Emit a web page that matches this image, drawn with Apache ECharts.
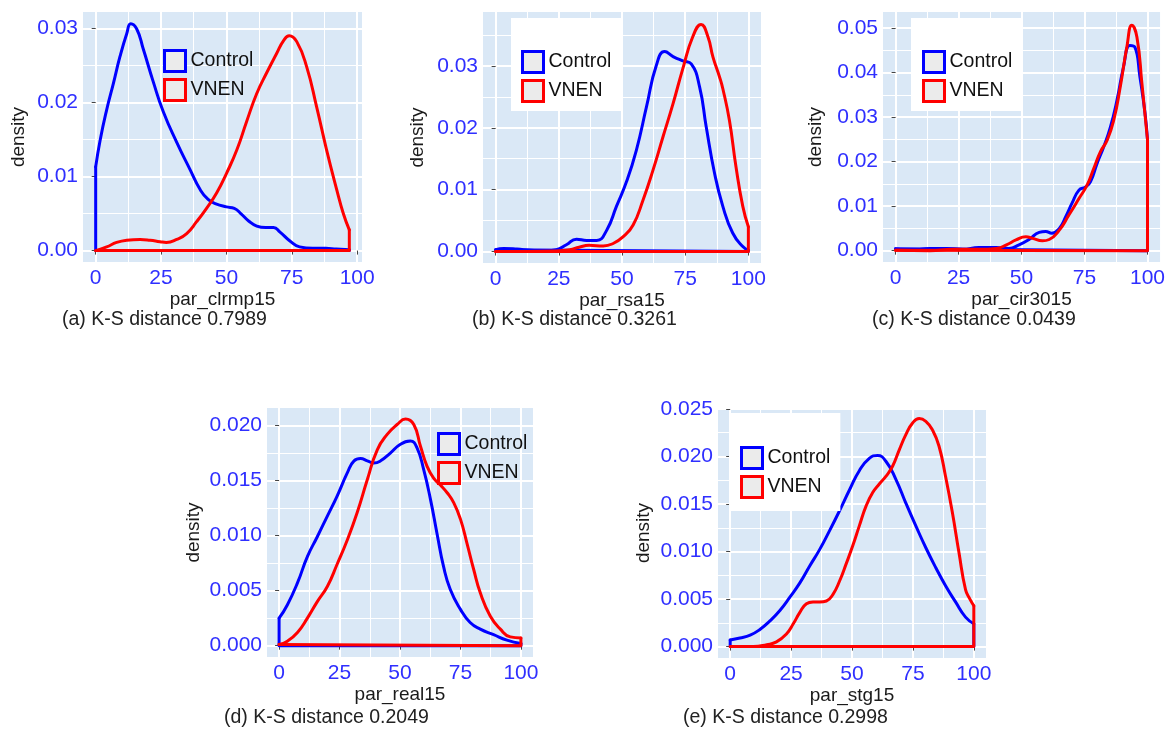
<!DOCTYPE html>
<html><head><meta charset="utf-8">
<script src="https://cdn.jsdelivr.net/npm/echarts@6/dist/echarts.min.js"></script>
<style>html,body{margin:0;padding:0;background:#fff}#c{width:1168px;height:752px}</style>
</head><body><div id="c"></div><script>
// ---- data (x, density) ----
const a_control = [[0,0.0113],[1.7,0.0149],[4.2,0.0190],[6.8,0.0226],[9.3,0.0262],[11.9,0.0293],[13.4,0.0306],[15.7,0.0299],[18.2,0.0272],[22,0.0228],[25.9,0.0187],[31,0.0146],[36,0.0110],[40,0.0082],[43,0.0069],[46,0.0063],[50,0.0059],[53,0.0057],[55.5,0.0050],[58.5,0.0040],[61.6,0.0033],[65,0.0031],[68,0.0031],[70.5,0.0025],[74.3,0.0013],[78,0.0005],[83,0.0003],[88,0.0003],[92,0.0002],[97,0.0001]];
const a_vnen = [[0,0],[4.2,0.0005],[8,0.0011],[11.9,0.0014],[17,0.0015],[20.8,0.0014],[24.6,0.0012],[27,0.0011],[31,0.0015],[34.8,0.0023],[38.6,0.0039],[42.4,0.0057],[46.3,0.0078],[50,0.0104],[54,0.0136],[57.7,0.0174],[61.6,0.0212],[65.4,0.0240],[69.2,0.0266],[71.8,0.0283],[74,0.0290],[76.9,0.0282],[80.7,0.0248],[84.5,0.0194],[88.3,0.0136],[92.2,0.0082],[94.7,0.0050],[97,0.0028]];
const b_control = [[0,0.0003],[3.2,0.0005],[8.4,0.0004],[13.7,0.0002],[19,0.0001],[24,0.0003],[28,0.0011],[32,0.0020],[36,0.0018],[40,0.0018],[44,0.0035],[47.8,0.0073],[51.8,0.0113],[55.7,0.0164],[59.7,0.0234],[63.6,0.0301],[66.9,0.0323],[70.2,0.0315],[74.1,0.0308],[77.4,0.0303],[80.7,0.0266],[83.3,0.0202],[86.6,0.0127],[89.9,0.0073],[93.8,0.0030],[97.8,0.0008],[100,0.0002]];
const b_vnen = [[0,0],[24,0.0001],[29.4,0.0003],[33,0.0007],[37,0.0010],[42.6,0.0009],[46.5,0.0013],[50.5,0.0024],[54.4,0.0043],[58.3,0.0083],[62.3,0.0132],[66.2,0.0185],[70.2,0.0239],[74.1,0.0296],[78,0.0347],[81.3,0.0367],[84,0.0347],[86,0.0314],[88.6,0.0282],[89.9,0.0263],[92.5,0.0212],[95.1,0.0137],[97.8,0.0073],[100,0.0040]];
const c_control = [[0,0.0004],[7,0.0001],[13.6,0.0005],[20,0.0005],[26.7,0.0003],[33,0.0007],[40,0.0007],[45,0.0005],[49,0.0013],[53,0.0025],[57,0.0041],[59.6,0.0043],[62,0.0039],[65,0.0050],[67.5,0.0076],[70,0.0106],[72.8,0.0136],[75.4,0.0143],[77.4,0.0155],[80,0.0196],[82.6,0.0233],[85.3,0.0278],[87.9,0.0338],[90.5,0.0413],[93,0.0461],[95,0.0457],[97,0.0390],[99,0.0310],[100,0.0250]];
const c_vnen = [[0,0.0001],[13.6,0],[22.8,0.0003],[33,0.0003],[40,0.0005],[44,0.0013],[47.8,0.0024],[51.7,0.0031],[54.3,0.0028],[58.3,0.0022],[61,0.0025],[65,0.0046],[68.8,0.0080],[72.8,0.0117],[76,0.0147],[78.7,0.0185],[81.3,0.0222],[84,0.0248],[86.6,0.0293],[89.2,0.0368],[91.8,0.0457],[93.8,0.0506],[95.8,0.0480],[97.8,0.0375],[100,0.0250]];
const d_control = [[0,0.0025],[3.4,0.0037],[7.6,0.0057],[11.7,0.0081],[15.8,0.0099],[20,0.0118],[24,0.0136],[28.2,0.0157],[31,0.0168],[33.7,0.0170],[36.5,0.0168],[39.2,0.0166],[42,0.0168],[46,0.0175],[50.2,0.0183],[54.3,0.0186],[57,0.0180],[59.8,0.0160],[62.6,0.0133],[65.3,0.0102],[68,0.0072],[70.8,0.0051],[75,0.0033],[79,0.0021],[83.2,0.0015],[88.7,0.0010],[94.2,0.0005],[100,0.0002]];
const d_vnen = [[0,0.0001],[3.4,0.0004],[7.6,0.0012],[11.7,0.0025],[15.8,0.0040],[20,0.0054],[24,0.0074],[28.2,0.0096],[32.3,0.0121],[36.5,0.0151],[40.6,0.0178],[44.7,0.0192],[48.8,0.0201],[52.3,0.0206],[55.7,0.0201],[58.5,0.0181],[61.2,0.0163],[64,0.0152],[66.7,0.0146],[69.5,0.0139],[72.2,0.0130],[75,0.0115],[77.7,0.0093],[80.5,0.0069],[83.2,0.0048],[87.3,0.0027],[91.5,0.0015],[95.6,0.0008],[100,0.0007]];
const e_control = [[0,0.0007],[4,0.0009],[8.2,0.0012],[12.2,0.0018],[16.3,0.0027],[20.4,0.0038],[24.5,0.0052],[28.6,0.0067],[32.7,0.0085],[36.7,0.0102],[40.8,0.0122],[44.9,0.0143],[49,0.0165],[53,0.0185],[57.1,0.0198],[60.5,0.0201],[63.9,0.0195],[68,0.0176],[72.1,0.0151],[76.2,0.0127],[80.3,0.0104],[84.4,0.0083],[88.4,0.0064],[92.5,0.0047],[96.6,0.0031],[100,0.0024]];
const e_vnen = [[0,0],[9.5,0],[15,0.0002],[19,0.0005],[23,0.0013],[25.9,0.0024],[28.6,0.0036],[31.3,0.0045],[34,0.0047],[36.7,0.0047],[39.5,0.0048],[42.2,0.0055],[44.9,0.0069],[47.6,0.0087],[50.3,0.0106],[53,0.0127],[55.8,0.0148],[58.5,0.0162],[61.2,0.0171],[63.9,0.0179],[66.7,0.0190],[69.4,0.0207],[72.1,0.0223],[74.8,0.0235],[77.6,0.0240],[80.3,0.0237],[83,0.0228],[85.7,0.0211],[88.4,0.0179],[91.2,0.0141],[93.9,0.0099],[96.6,0.0060],[98.4,0.0050],[100,0.0043]];

const groups = ['Control', 'VNEN'];
const xTicks = [0, 25, 50, 75, 100];
const xMinor = [12.5, 37.5, 62.5, 87.5];
const a_yTicks = [0, 0.01, 0.02, 0.03];
const a_yMinor = [0.005, 0.015, 0.025];
const b_yTicks = [0, 0.01, 0.02, 0.03];
const b_yMinor = [0.005, 0.015, 0.025, 0.035];
const c_yTicks = [0, 0.01, 0.02, 0.03, 0.04, 0.05];
const c_yMinor = [0.005, 0.015, 0.025, 0.035, 0.045];
const d_yTicks = [0, 0.005, 0.01, 0.015, 0.02];
const d_yMinor = [0.0025, 0.0075, 0.0125, 0.0175];
const e_yTicks = [0, 0.005, 0.01, 0.015, 0.02, 0.025];
const e_yMinor = [0.0025, 0.0075, 0.0125, 0.0175, 0.0225];
const xNames = ['par_clrmp15', 'par_rsa15', 'par_cir3015', 'par_real15', 'par_stg15'];
const yName = 'density';
const captions = ['(a) K-S distance 0.7989', '(b) K-S distance 0.3261', '(c) K-S distance 0.0439', '(d) K-S distance 0.2049', '(e) K-S distance 0.2998'];

// ---- styling / layout ----
const FONT = '"Liberation Sans", Arial, sans-serif';
const BLUE = '#0000ff', RED = '#ff0000', BG = '#dae8f6', TICKC = '#2f2fff';
const panels = [
  {ctrl: a_control, vnen: a_vnen, yT: a_yTicks, yM: a_yMinor, dec: 2, grid: {left: 83, top: 12, width: 279, height: 250}, x: [-4.85, 101.85], y: [-0.00154, 0.0322], yGap: 55, leg: {left: 163, top: 49, padding: 0, bg: 'transparent'}, cap: [62, 310]},
  {ctrl: b_control, vnen: b_vnen, yT: b_yTicks, yM: b_yMinor, dec: 2, grid: {left: 483, top: 12, width: 278, height: 251}, x: [-5, 105], y: [-0.00185, 0.0387], yGap: 56, leg: {left: 511, top: 18, padding: [32, 10, 8, 10], bg: '#ffffff'}, cap: [472, 310]},
  {ctrl: c_control, vnen: c_vnen, yT: c_yTicks, yM: c_yMinor, dec: 2, grid: {left: 883, top: 12, width: 279, height: 250}, x: [-5, 105], y: [-0.00255, 0.0536], yGap: 58, leg: {left: 911, top: 18, padding: [32, 10, 8, 11], bg: '#ffffff'}, cap: [872, 310]},
  {ctrl: d_control, vnen: d_vnen, yT: d_yTicks, yM: d_yMinor, dec: 3, grid: {left: 267, top: 408, width: 266, height: 249}, x: [-5, 105], y: [-0.00103, 0.0216], yGap: 64, leg: {left: 437, top: 432, padding: 0, bg: 'transparent'}, cap: [224, 708]},
  {ctrl: e_control, vnen: e_vnen, yT: e_yTicks, yM: e_yMinor, dec: 3, grid: {left: 718, top: 408, width: 268, height: 250}, x: [-5, 105], y: [-0.0012, 0.0251], yGap: 65, leg: {left: 729, top: 413, padding: [33, 10, 12, 11], bg: '#ffffff'}, cap: [683, 708]}
];

const grid = [], xAxis = [], yAxis = [], series = [], legend = [], title = [];
panels.forEach((p, i) => {
  grid.push(Object.assign({show: true, backgroundColor: BG, borderWidth: 0, containLabel: false}, p.grid));
  const nameStyle = {fontSize: 19, color: '#1a1a1a', fontFamily: FONT};
  xAxis.push({
    gridIndex: i, type: 'value', min: p.x[0], max: p.x[1], position: 'bottom',
    axisLine: {show: false},
    axisTick: {show: true, length: 4, lineStyle: {color: '#444', width: 1}, customValues: xTicks},
    axisLabel: {customValues: xTicks, color: TICKC, fontSize: 21, fontFamily: FONT, margin: 6},
    splitLine: {show: true, lineStyle: {color: '#ffffff', width: 2}},
    name: xNames[i], nameLocation: 'middle', nameGap: 27, nameTextStyle: nameStyle
  });
  xAxis.push({
    gridIndex: i, type: 'value', min: p.x[0], max: p.x[1], position: 'top',
    axisLine: {show: false}, axisTick: {show: false, customValues: xMinor}, axisLabel: {show: false},
    splitLine: {show: true, lineStyle: {color: '#ffffff', width: 1}}
  });
  yAxis.push({
    gridIndex: i, type: 'value', min: p.y[0], max: p.y[1], position: 'left',
    axisLine: {show: false},
    axisTick: {show: true, length: 4, lineStyle: {color: '#444', width: 1}, customValues: p.yT},
    axisLabel: {customValues: p.yT, formatter: v => v.toFixed(p.dec), color: TICKC, fontSize: 21, fontFamily: FONT, margin: 5},
    splitLine: {show: true, lineStyle: {color: '#ffffff', width: 2}},
    name: yName, nameLocation: 'middle', nameGap: p.yGap, nameRotate: 90, nameTextStyle: nameStyle
  });
  yAxis.push({
    gridIndex: i, type: 'value', min: p.y[0], max: p.y[1], position: 'right',
    axisLine: {show: false}, axisTick: {show: false, customValues: p.yM}, axisLabel: {show: false},
    splitLine: {show: true, lineStyle: {color: '#ffffff', width: 1}}
  });
  [[groups[0], p.ctrl, BLUE], [groups[1], p.vnen, RED]].forEach(([nm, d, col]) => {
    const first = d[0], last = d[d.length - 1];
    series.push({
      type: 'line', name: nm, xAxisIndex: 2 * i, yAxisIndex: 2 * i, data: d,
      smooth: 0.5, symbol: 'none', silent: true,
      lineStyle: {color: col, width: 3, cap: 'round', join: 'round'}, itemStyle: {color: col}
    });
    series.push({
      type: 'line', name: nm, xAxisIndex: 2 * i, yAxisIndex: 2 * i,
      data: [[first[0], first[1]], [first[0], 0], [last[0], 0], [last[0], last[1]]],
      smooth: false, symbol: 'none', silent: true,
      lineStyle: {color: col, width: 3, cap: 'round', join: 'round'}, itemStyle: {color: col}
    });
  });
  legend.push({
    left: p.leg.left, top: p.leg.top, orient: 'vertical', padding: p.leg.padding,
    backgroundColor: p.leg.bg, itemWidth: 21, itemHeight: 21, itemGap: 5, icon: 'rect',
    selectedMode: false, textStyle: {fontSize: 19.5, color: '#111', fontFamily: FONT},
    data: [
      {name: groups[0], icon: 'rect', itemStyle: {color: '#ebebeb', borderColor: BLUE, borderWidth: 3}},
      {name: groups[1], icon: 'rect', itemStyle: {color: '#ebebeb', borderColor: RED, borderWidth: 3}}
    ]
  });
  title.push({
    text: captions[i], left: p.cap[0], top: p.cap[1], padding: 0,
    textStyle: {fontSize: 19.5, fontWeight: 'normal', color: '#222', fontFamily: FONT}
  });
});

const chart = echarts.init(document.getElementById('c'), null, {renderer: 'canvas'});
chart.setOption({animation: false, backgroundColor: '#ffffff', title, grid, xAxis, yAxis, series, legend});
</script></body></html>
